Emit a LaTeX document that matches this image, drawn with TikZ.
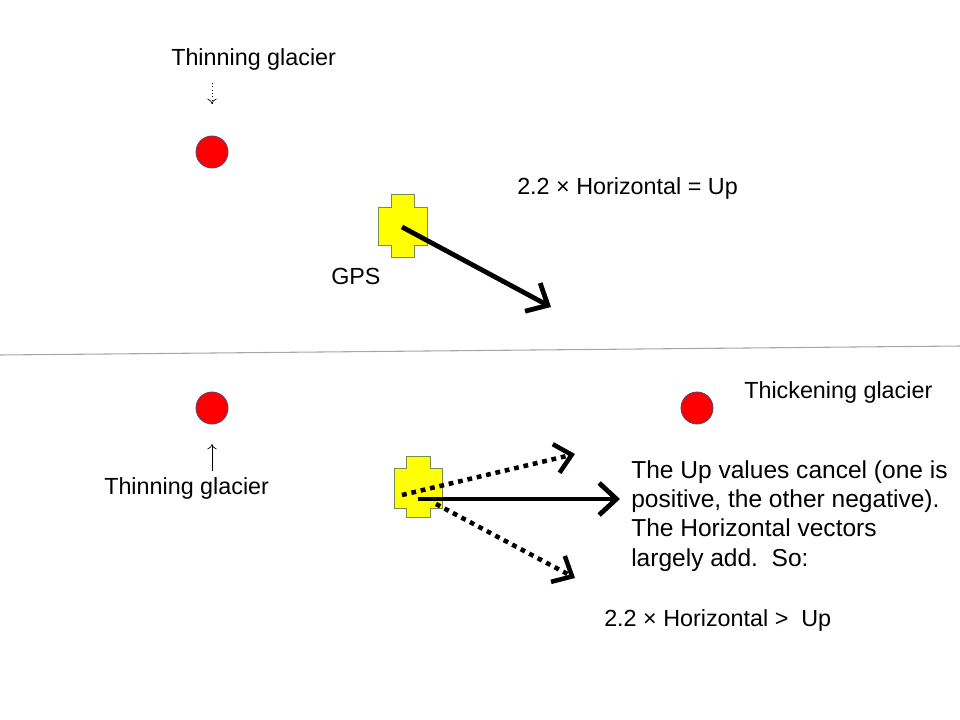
\documentclass[tikz,border=0pt]{standalone}
\usepackage{fontspec}
\setmainfont{Liberation Sans}
\usetikzlibrary{arrows.meta}
\definecolor{gpsyellow}{RGB}{255,255,0}
\definecolor{gpsedge}{RGB}{120,140,80}
\definecolor{dotred}{RGB}{255,0,0}
\definecolor{dotedge}{RGB}{90,60,110}
\tikzset{
  lbl/.style={font=\fontsize{17.5}{22}\selectfont, inner sep=0pt, anchor=west},
  paralbl/.style={font=\fontsize{18.4}{22}\selectfont, inner sep=0pt},
  dotnode/.style={circle, minimum size=24pt, inner sep=0pt, fill=dotred, draw=dotedge, line width=0.6pt},
  bigarrow/.style={line width=3.6pt, -{Straight Barb[length=13pt,width=24pt,line width=3.6pt]}},
  dotarrow/.style={line width=3.4pt, dash pattern=on 3.6pt off 3.6pt, -{Straight Barb[length=12pt,width=22pt,line width=3.4pt]}},
  smallarrow/.style={line width=0.5pt, -{To[length=4pt,width=7pt]}},
  gps/.style={fill=gpsyellow, draw=gpsedge, line width=0.6pt},
}
\begin{document}
\begin{tikzpicture}[x=0.75pt,y=-0.75pt]
\useasboundingbox (0,0) rectangle (960,720);
% divider
\coordinate (divL) at (0,355);
\coordinate (divR) at (960,346);
\draw[gray!70, line width=0.8pt] (divL) -- (divR);

% top half
\node[lbl] (thin1) at (171,59) {Thinning glacier};
\node[dotnode] (red1) at (212,152) {};
\coordinate (t1s) at (212,83);
\coordinate (t1e) at (212,104);
\draw[smallarrow, dotted] (t1s) -- (t1e);

\draw[gps] (391,194) -- (414,194) -- (414,207) -- (427,207) -- (427,245) -- (414,245) -- (414,257) -- (391,257) -- (391,245) -- (378,245) -- (378,207) -- (391,207) -- cycle;
\coordinate (gps1) at (402,227);
\coordinate (g1end) at (551,307);
\draw[bigarrow] (gps1) -- (g1end);
\node[lbl] (gpslbl) at (331,276) {GPS};
\node[lbl] (eq1) at (517,188) {2.2 × Horizontal = Up};

% bottom half
\node[dotnode] (red2) at (212,408) {};
\node[dotnode] (red3) at (697,408) {};
\coordinate (t2s) at (212,471);
\coordinate (t2e) at (212,444);
\draw[smallarrow] (t2s) -- (t2e);
\node[lbl] (thin2) at (104,488) {Thinning glacier};
\node[lbl] (thick) at (744,392) {Thickening glacier};

\draw[gps] (406,456) -- (430,456) -- (430,468) -- (442,468) -- (442,508) -- (430,508) -- (430,517) -- (406,517) -- (406,508) -- (394,508) -- (394,468) -- (406,468) -- cycle;
\coordinate (gA) at (402,495);
\coordinate (gB) at (418,499);
\coordinate (gC) at (436,504);
\coordinate (eA) at (575,454);
\coordinate (eB) at (620,499);
\coordinate (eC) at (575,578);
\draw[dotarrow] (gA) -- (eA);
\draw[bigarrow] (gB) -- (eB);
\draw[dotarrow] (gC) -- (eC);

\node[paralbl, align=left, anchor=north west] (para) at (631,460) {The Up values cancel (one is\\positive, the other negative).\\The Horizontal vectors\\largely add.\ \ So:};
\node[lbl] (eq2) at (604,620) {2.2 × Horizontal >\ \ Up};
\end{tikzpicture}
\end{document}
